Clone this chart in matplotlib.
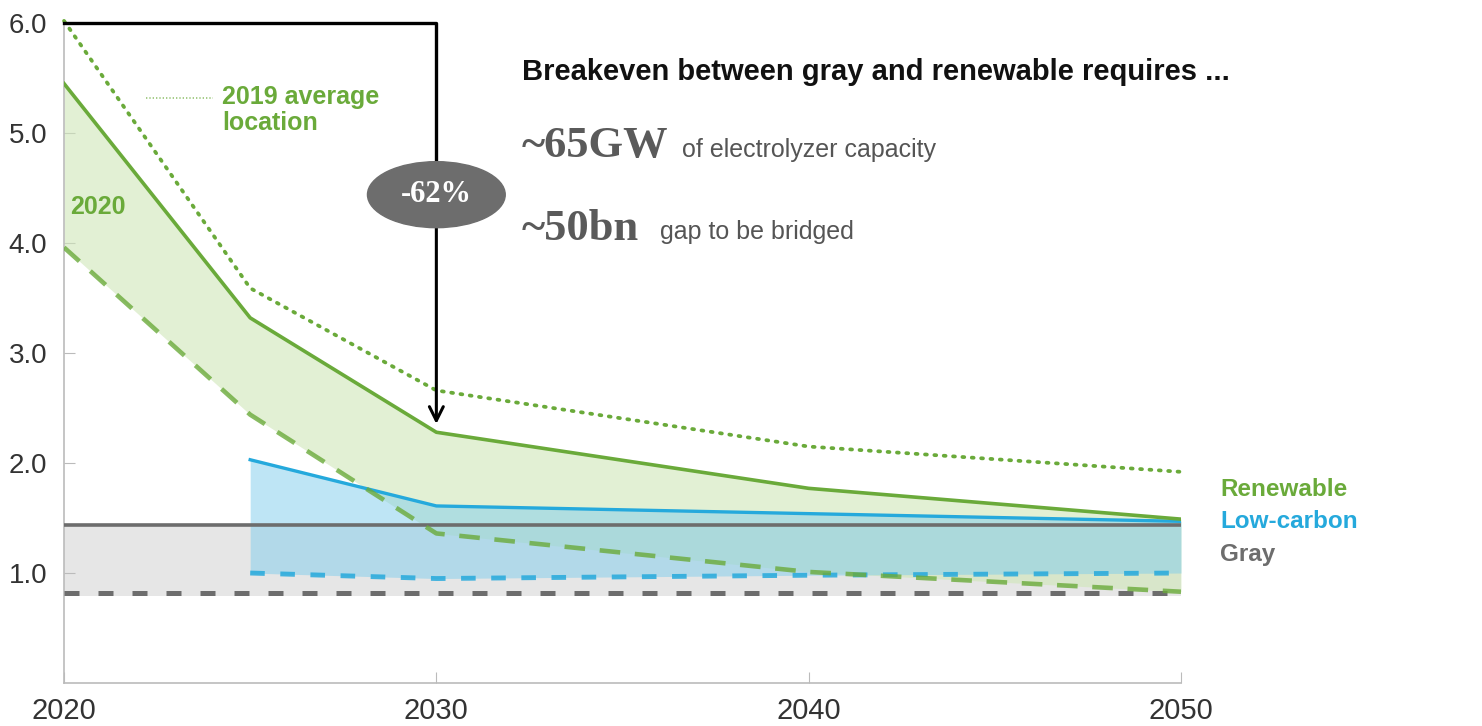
import numpy as np
import matplotlib.pyplot as plt
from matplotlib.patches import Ellipse

years = [2020, 2025, 2030, 2040, 2050]
ren_high = [5.45, 3.32, 2.28, 1.77, 1.49]
ren_low = [3.96, 2.44, 1.36, 1.01, 0.83]
avg_2019 = [6.02, 3.59, 2.66, 2.15, 1.92]

lc_years = [2025, 2030, 2040, 2050]
lc_high = [2.03, 1.61, 1.54, 1.47]
lc_low = [1.00, 0.95, 0.98, 1.00]

gray_years = [2020, 2050]
gray_high = [1.44, 1.44]
gray_low = [0.82, 0.82]

xticks = [2020, 2030, 2040, 2050]
yticks = [1.0, 2.0, 3.0, 4.0, 5.0, 6.0]

green = '#6aaa3a'
blue = '#25a9dc'
gray = '#6d6d6d'

plt.rcParams['font.family'] = ['Liberation Sans', 'DejaVu Sans']

fig = plt.figure(figsize=(14.82, 7.26), dpi=100)
ax = fig.add_axes([0.0432, 0.0592, 0.7537, 0.909])

# fills
ax.fill_between(gray_years, [v - 0.03 for v in gray_low], gray_high,
                color='#e6e6e6', lw=0, zorder=1)
ax.fill_between(years, ren_low, ren_high, color='#cfe6b8', alpha=0.6, lw=0, zorder=2)
ax.fill_between(lc_years, lc_low, lc_high, color='#7fcdec', alpha=0.5, lw=0, zorder=3)

# lines
ax.plot(gray_years, gray_high, color=gray, lw=2.6, zorder=5)
ax.plot(gray_years, gray_low, color=gray, lw=3.6, ls=(0, (3, 3.8)), zorder=5)
ax.plot(lc_years, lc_high, color=blue, lw=2.4, zorder=6)
ax.plot(lc_years, lc_low, color=blue, lw=3.5, ls=(0, (3, 3.2)), alpha=0.85, zorder=6)
ax.plot(years, ren_high, color=green, lw=2.6, zorder=7)
ax.plot(years, ren_low, color=green, lw=3.3, ls=(0, (4.5, 3.2)), alpha=0.8, zorder=7)
ax.plot(years, avg_2019, color=green, lw=2.7, ls=(0, (0.5, 2.0)),
        dash_capstyle='round', clip_on=False, zorder=7)

# arrow from 2020 peak to 2030
ax.plot([2020, 2030, 2030], [6.0, 6.0, 4.6], color='black', lw=2.4,
        clip_on=False, zorder=8)
ax.annotate('', xy=(2030, 2.33), xytext=(2030, 4.4),
            arrowprops=dict(arrowstyle='->', color='black', lw=2.2,
                            mutation_scale=25), zorder=8)
ax.add_patch(Ellipse((2030, 4.44), 3.7, 0.60, color='#6d6d6d', zorder=9))
ax.text(2030, 4.44, '-62%', color='white', fontsize=22, fontweight='bold',
        family='Liberation Serif', ha='center', va='center', zorder=10)

# labels
ax.plot([2022.2, 2024.0], [5.32, 5.32], color=green, lw=1.2, ls=(0, (0.8, 1.2)),
        alpha=0.7)
ax.text(2024.24, 5.21, '2019 average\nlocation', color=green, fontsize=18,
        fontweight='bold', va='center', ha='left', linespacing=1.15)
ax.text(2020.16, 4.33, '2020', color=green, fontsize=18, fontweight='bold',
        va='center', ha='left')

ax.text(2032.3, 5.555, 'Breakeven between gray and renewable requires ...',
        fontsize=21, fontweight='bold', color='#111111', va='center')
ax.text(2032.3, 4.88, '~65GW', fontsize=32, fontweight='bold',
        family='Liberation Serif', color='#5a5a5a', va='center')
ax.text(2036.6, 4.85, 'of electrolyzer capacity', fontsize=18,
        color='#555555', va='center')
ax.text(2032.3, 4.13, '~50bn', fontsize=32, fontweight='bold',
        family='Liberation Serif', color='#5a5a5a', va='center')
ax.text(2036.0, 4.10, 'gap to be bridged', fontsize=18,
        color='#555555', va='center')

ax.text(2051.05, 1.76, 'Renewable', color=green, fontsize=17.5, fontweight='bold',
        va='center')
ax.text(2051.05, 1.47, 'Low-carbon', color=blue, fontsize=17.5, fontweight='bold',
        va='center')
ax.text(2051.05, 1.17, 'Gray', color=gray, fontsize=17.5, fontweight='bold',
        va='center')

ax.set_xlim(2020, 2050)
ax.set_ylim(0, 6)
ax.set_xticks(xticks)
ax.set_yticks(yticks)
ax.set_yticklabels(['%.1f' % v for v in yticks])
ax.tick_params(direction='in', length=8, color='#bbbbbb', labelcolor='#333333')
ax.tick_params(axis='x', pad=10, labelsize=21)
ax.tick_params(axis='y', pad=12, labelsize=20)
for s in ['top', 'right']:
    ax.spines[s].set_visible(False)
for s in ['left', 'bottom']:
    ax.spines[s].set_color('#bbbbbb')
    ax.spines[s].set_linewidth(1.2)

fig.savefig('out.png', dpi=100)
